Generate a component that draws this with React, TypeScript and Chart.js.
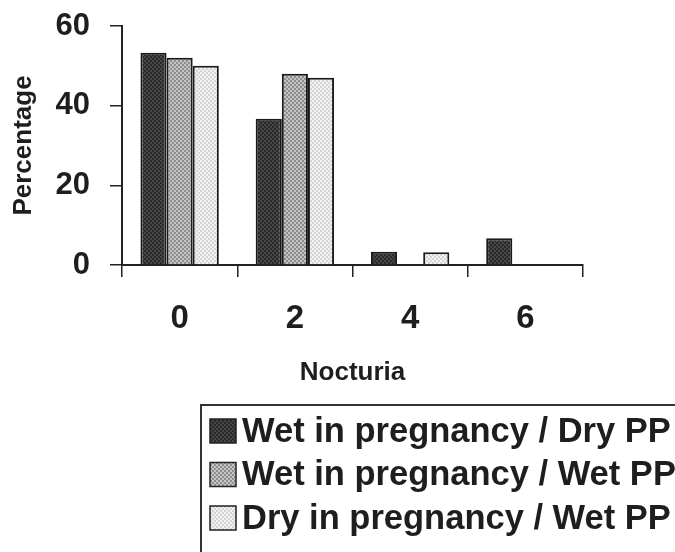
import React, { useEffect, useRef } from 'react';
import { Chart, registerables } from 'chart.js';

Chart.register(...registerables);

const categories = ['0', '2', '4', '6'];
const seriesLabels = [
  'Wet in pregnancy / Dry PP',
  'Wet in pregnancy / Wet PP',
  'Dry in pregnancy / Wet PP',
];
const wetDryValues = [53.3, 36.7, 3.3, 6.7];
const wetWetValues = [52.0, 48.0, null, null];
const dryWetValues = [50.0, 47.0, 3.2, null];
const yTickValues = [0, 20, 40, 60];
const xTitle = 'Nocturia';
const yTitle = 'Percentage';

const FONT = '"Liberation Sans", Arial, Helvetica, sans-serif';
const INK = '#1e1e1e';

function makePattern(base: string, dot: string): CanvasPattern | string {
  const c = document.createElement('canvas');
  c.width = 4;
  c.height = 4;
  const g = c.getContext('2d');
  if (!g) return base;
  g.fillStyle = base;
  g.fillRect(0, 0, 4, 4);
  g.fillStyle = dot;
  g.fillRect(0, 0, 2, 2);
  g.fillRect(2, 2, 2, 2);
  return g.createPattern(c, 'repeat') || base;
}

const legendBoxPlugin = {
  id: 'legendBox',
  afterDraw(chart: any) {
    const ctx = chart.ctx as CanvasRenderingContext2D;
    const boxX = 201;
    const boxY = 405;
    ctx.save();
    ctx.strokeStyle = '#333';
    ctx.lineWidth = 2;
    ctx.strokeRect(boxX, boxY, 700, 300);
    ctx.font = `bold 34.5px ${FONT}`;
    ctx.textBaseline = 'middle';
    ctx.textAlign = 'left';
    chart.data.datasets.forEach((ds: any, i: number) => {
      const cy = 431 + i * 43.5;
      ctx.fillStyle = ds.backgroundColor;
      ctx.fillRect(210, cy - 12, 26, 24);
      ctx.strokeStyle = '#222';
      ctx.lineWidth = 1.5;
      ctx.strokeRect(210, cy - 12, 26, 24);
      ctx.fillStyle = INK;
      ctx.fillText(ds.label, 242, cy + 1);
    });
    ctx.restore();
  },
};

export default function App() {
  const ref = useRef<HTMLCanvasElement | null>(null);

  useEffect(() => {
    if (!ref.current) return;
    const p1 = makePattern('#2a2a2a', '#474747');
    const p2 = makePattern('#8e8e8e', '#c4c4c4');
    const p3 = makePattern('#d4d4d4', '#f2f2f2');
    const chart = new Chart(ref.current, {
      type: 'bar',
      data: {
        labels: categories,
        datasets: [
          { label: seriesLabels[0], data: wetDryValues, backgroundColor: p1 as any },
          { label: seriesLabels[1], data: wetWetValues, backgroundColor: p2 as any },
          { label: seriesLabels[2], data: dryWetValues, backgroundColor: p3 as any },
        ].map((d) => ({
          ...d,
          borderColor: '#1a1a1a',
          borderWidth: 2,
          barPercentage: 1.0,
          categoryPercentage: 0.68,
        })),
      },
      options: {
        responsive: false,
        animation: false,
        devicePixelRatio: 1,
        layout: { padding: { top: 26, right: 92, bottom: 152, left: 0 } },
        plugins: {
          legend: { display: false },
          tooltip: { enabled: false },
        },
        scales: {
          x: {
            offset: true,
            grid: {
              offset: true,
              drawOnChartArea: false,
              drawTicks: true,
              tickLength: 12,
              color: '#222',
              lineWidth: 1.5,
            },
            border: { display: true, color: '#222', width: 2 },
            ticks: {
              color: INK,
              padding: 22,
              font: { family: FONT, size: 33, weight: 'bold' },
              maxRotation: 0,
            },
            title: {
              display: true,
              text: xTitle,
              color: INK,
              font: { family: FONT, size: 26, weight: 'bold' },
              padding: { top: 0, bottom: 12 },
            },
            afterFit: (s: any) => {
              s.height = 135;
              s.paddingLeft = 0;
              s.paddingRight = 0;
            },
          },
          y: {
            min: 0,
            max: 60,
            afterBuildTicks: (s: any) => {
              s.ticks = yTickValues.map((v) => ({ value: v }));
            },
            grid: {
              drawOnChartArea: false,
              drawTicks: true,
              tickLength: 12,
              color: '#222',
              lineWidth: 1.5,
            },
            border: { display: true, color: '#222', width: 2 },
            ticks: {
              color: INK,
              padding: 20,
              font: { family: FONT, size: 31, weight: 'bold' },
            },
            title: {
              display: true,
              text: yTitle,
              color: INK,
              font: { family: FONT, size: 26, weight: 'bold' },
              padding: { top: 8, bottom: 0 },
            },
            afterFit: (s: any) => {
              s.width = 122;
              s.paddingTop = 0;
              s.paddingBottom = 0;
            },
          },
        },
      },
      plugins: [legendBoxPlugin],
    });
    return () => chart.destroy();
  }, []);

  return (
    <div style={{ position: 'fixed', left: 0, top: 0, width: 675, height: 552, background: '#fff' }}>
      <canvas ref={ref} width={675} height={552} />
    </div>
  );
}
